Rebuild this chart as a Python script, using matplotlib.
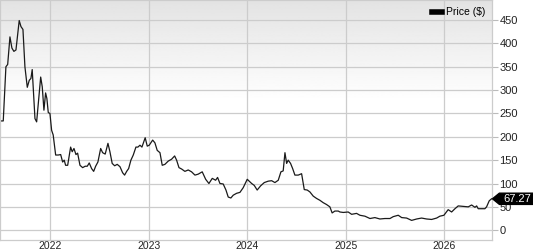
import matplotlib
matplotlib.use("Agg")
import matplotlib.pyplot as plt
import numpy as np
from matplotlib.patches import Polygon

plt.rcParams['font.family'] = ['Liberation Sans', 'DejaVu Sans']

# time as decimal years, price in $
years = [
    2021.507, 2021.523, 2021.550, 2021.568, 2021.591, 2021.611, 2021.631, 2021.652,
    2021.685, 2021.703, 2021.723, 2021.743, 2021.767, 2021.787, 2021.804, 2021.817,
    2021.845, 2021.862, 2021.903, 2021.919, 2021.936, 2021.953, 2021.966, 2021.980,
    2021.997, 2022.014, 2022.030, 2022.055, 2022.081, 2022.106, 2022.126, 2022.142,
    2022.156, 2022.177, 2022.207, 2022.223, 2022.241, 2022.261, 2022.278, 2022.302,
    2022.329, 2022.355, 2022.376, 2022.396, 2022.420, 2022.441, 2022.461, 2022.484,
    2022.512, 2022.532, 2022.558, 2022.586, 2022.606, 2022.629, 2022.654, 2022.680,
    2022.708, 2022.735, 2022.755, 2022.776, 2022.796, 2022.819, 2022.843, 2022.870,
    2022.890, 2022.911, 2022.931, 2022.964, 2022.985, 2023.005, 2023.040, 2023.063,
    2023.086, 2023.114, 2023.137, 2023.164, 2023.198, 2023.232, 2023.263, 2023.283,
    2023.307, 2023.334, 2023.367, 2023.401, 2023.435, 2023.469, 2023.502, 2023.543,
    2023.578, 2023.611, 2023.645, 2023.679, 2023.699, 2023.723, 2023.756, 2023.784,
    2023.807, 2023.834, 2023.858, 2023.892, 2023.926, 2023.959, 2024.000, 2024.045,
    2024.071, 2024.101, 2024.136, 2024.173, 2024.213, 2024.248, 2024.281, 2024.315,
    2024.342, 2024.365, 2024.383, 2024.400, 2024.416, 2024.440, 2024.461, 2024.484,
    2024.518, 2024.552, 2024.579, 2024.609, 2024.636, 2024.670, 2024.704, 2024.738,
    2024.771, 2024.805, 2024.839, 2024.862, 2024.890, 2024.924, 2024.941, 2024.975,
    2025.025, 2025.060, 2025.110, 2025.144, 2025.195, 2025.246, 2025.296, 2025.347,
    2025.398, 2025.449, 2025.482, 2025.533, 2025.568, 2025.618, 2025.669, 2025.720,
    2025.770, 2025.821, 2025.872, 2025.923, 2025.956, 2025.997, 2026.040, 2026.075,
    2026.109, 2026.142, 2026.193, 2026.244, 2026.278, 2026.312, 2026.329, 2026.345,
    2026.380, 2026.413, 2026.430, 2026.457, 2026.481,
]
prices = [
    234, 234, 350, 355, 414, 390, 383, 386,
    449, 436, 430, 350, 306, 321, 325, 344,
    239, 232, 328, 307, 257, 294, 282, 252,
    250, 214, 204, 161, 161, 162, 146, 150,
    139, 139, 178, 168, 175, 162, 165, 139,
    134, 137, 137, 144, 132, 126, 137, 146,
    175, 166, 163, 186, 168, 143, 138, 141,
    136, 123, 118, 126, 132, 150, 161, 178,
    178, 182, 178, 198, 180, 182, 193, 187,
    171, 166, 139, 141, 148, 152, 159, 150,
    134, 131, 126, 129, 125, 118, 120, 125,
    109, 100, 111, 107, 113, 100, 99, 86,
    71, 69, 75, 79, 81, 91, 109, 100,
    96, 86, 95, 102, 105, 106, 102, 107,
    125, 127, 166, 143, 150, 143, 132, 118,
    118, 121, 87, 86, 82, 73, 68, 64,
    59, 55, 50, 37, 41, 41, 39, 38,
    39, 34, 36, 32, 30, 25, 27, 24,
    25, 25, 29, 32, 27, 26, 21, 24,
    26, 24, 23, 26, 30, 32, 44, 39,
    46, 52, 51, 50, 54, 49, 52, 46,
    46, 46, 50, 63, 67.27,
]
year_ticks = [2022, 2023, 2024, 2025, 2026]
price_ticks = [0, 50, 100, 150, 200, 250, 300, 350, 400, 450]
last_label = '67.27'

fig = plt.figure(figsize=(5.33, 2.5), dpi=100)
ax = fig.add_axes([0.0, 0.04, 0.924, 0.96])

# grey-to-white gradient background
frac = np.linspace(1, 0, 256)[:, None]
shade = np.clip((frac - 0.58) / 0.42, 0, 1)
grad = 1.0 - 0.11 * shade
ax.imshow(grad, cmap='gray', vmin=0, vmax=1, aspect='auto', extent=[0, 1, 0, 1],
          transform=ax.transAxes, zorder=0)

ax.plot(years, prices, color='#1a1a1a', linewidth=0.9, zorder=3, label='Price ($)')

ax.set_xlim(2021.49, 2026.49)
ax.set_ylim(-21, 493)
ax.set_xticks(year_ticks)
ax.set_xticklabels([str(y) for y in year_ticks])
ax.set_yticks(price_ticks)
ax.yaxis.tick_right()
ax.grid(True, color='#cccccc', linewidth=0.9, zorder=1)
ax.set_axisbelow(True)
ax.tick_params(axis='x', length=0, pad=1, labelsize=7.5, colors='#222222')
ax.tick_params(axis='y', length=4, width=0.8, color='#bbbbbb', pad=1, labelsize=8,
               labelcolor='#222222')
for s in ax.spines.values():
    s.set_color('#cccccc')
    s.set_linewidth(0.9)

leg = ax.legend(loc='upper right', frameon=False, fontsize=7.5, handlelength=0.9,
                handletextpad=0.4, borderaxespad=0.3)
for h in leg.legend_handles:
    h.set_linewidth(4)
    h.set_color('black')

# price tag at the last value
last = prices[-1]
tr = ax.get_yaxis_transform()
tag = Polygon([(1.0, last), (1.014, last + 12), (1.086, last + 12),
               (1.086, last - 12), (1.014, last - 12)],
              closed=True, transform=tr, facecolor='black', edgecolor='black',
              clip_on=False, zorder=10)
ax.add_patch(tag)
ax.text(1.05, last, last_label, transform=tr, color='white', fontsize=8,
        ha='center', va='center', zorder=11, clip_on=False)

fig.savefig('out.png', dpi=100)
